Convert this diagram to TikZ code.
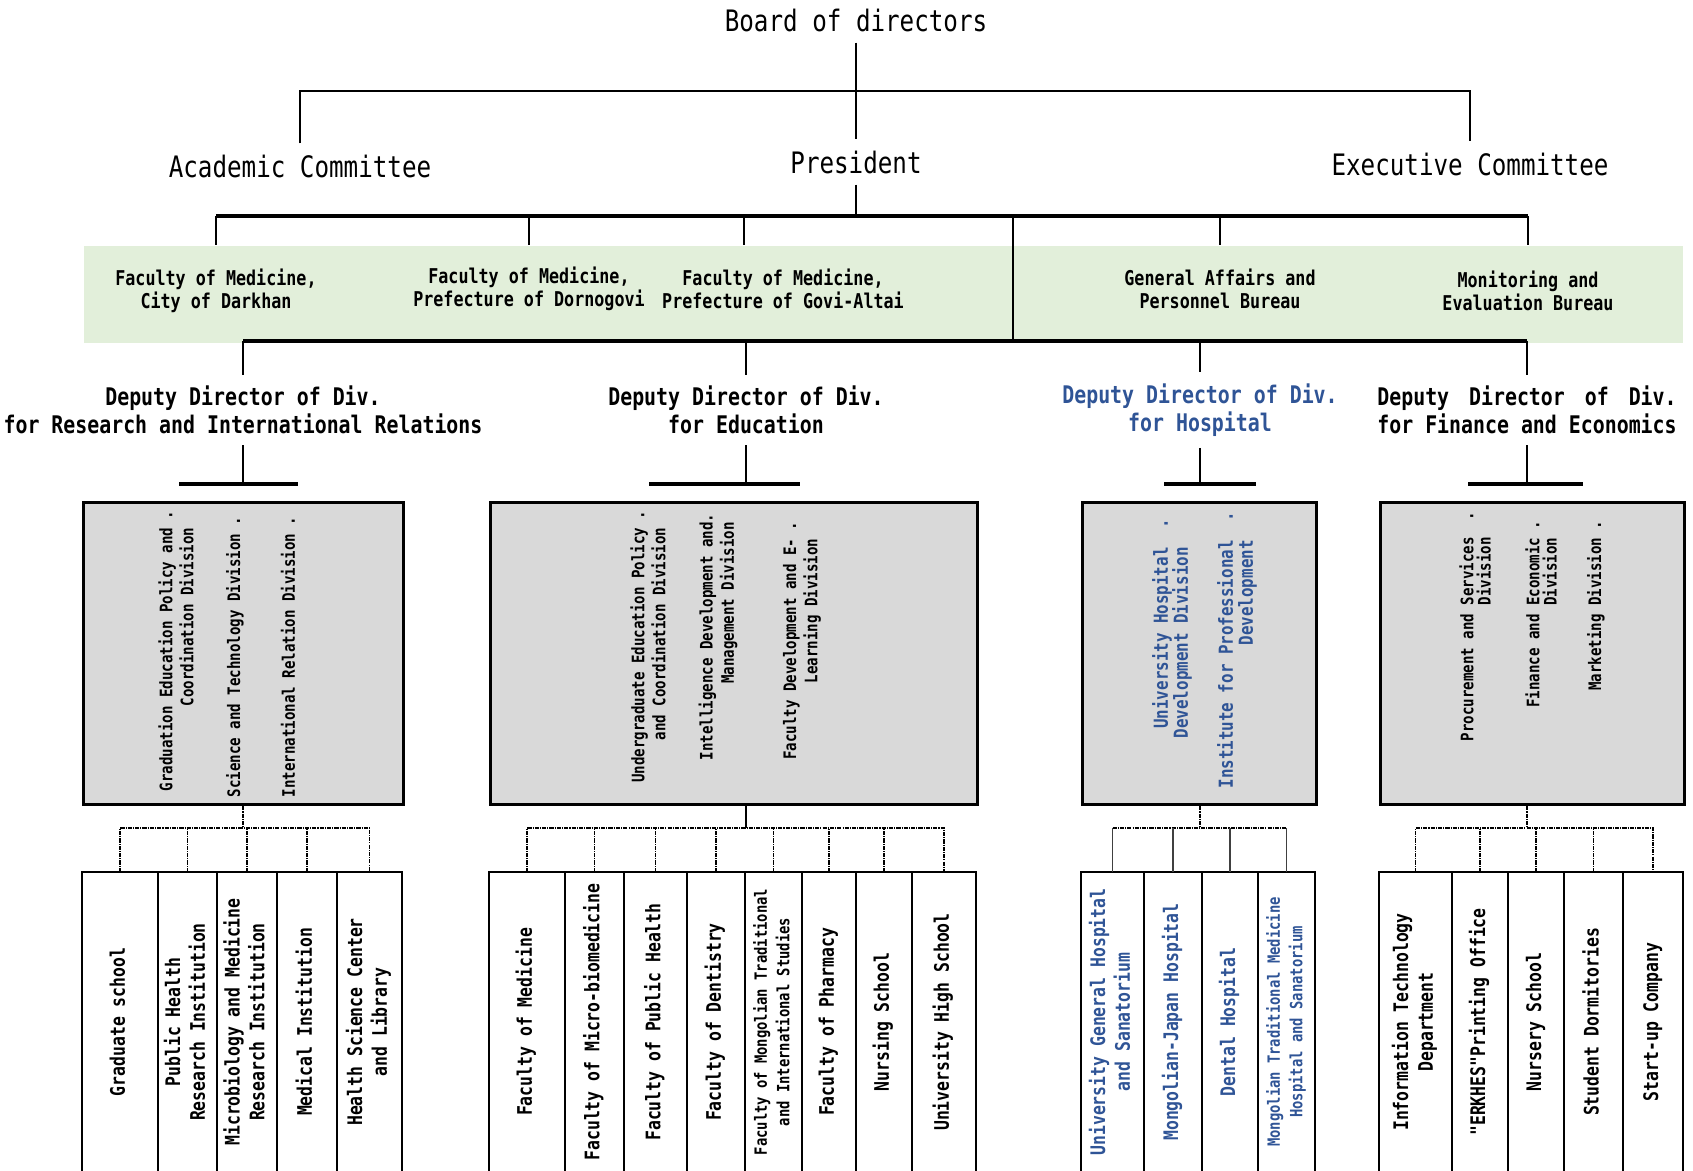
\documentclass[tikz,border=0pt]{standalone}
\usepackage{fontspec}
\usepackage{graphicx}
\usepackage{calc}
\setmainfont{DejaVu Sans Mono}[FakeStretch=0.82,Ligatures=TeXOff]
\usetikzlibrary{positioning}
\definecolor{bandcol}{RGB}{226,239,218}
\definecolor{boxcol}{RGB}{217,217,217}
\definecolor{hospcol}{RGB}{47,84,150}
\newcommand{\vlab}[1]{\rotatebox{90}{\begin{tabular}{@{}c@{}}#1\end{tabular}}}

\begin{document}
\begin{tikzpicture}[x=0.1mm, y=-0.1mm,
  head/.style={font=\fontsize{8.4}{10}\selectfont, inner sep=3pt},
  unit/.style={font=\bfseries\fontsize{5.8}{6.6}\selectfont, align=center, inner sep=0pt},
  deputy/.style={font=\bfseries\fontsize{6.9}{6.9}\selectfont, align=center, inner sep=3pt},
  band/.style={fill=bandcol, anchor=north west, inner sep=0pt, minimum height=9.7mm},
  divbox/.style={draw, line width=0.9pt, fill=boxcol, anchor=north west, inner sep=0pt, minimum height=30.2mm},
  divtxt/.style={rotate=90, anchor=east, align=right, inner sep=0pt, font=\bfseries\fontsize{4.9}{4.9}\selectfont},
  colbox/.style={draw, line width=0.75pt, anchor=north west, inner sep=0pt, outer sep=0pt, minimum height=30mm, font=\bfseries\fontsize{5.7}{7.1}\selectfont},
  smalltxt/.style={font=\bfseries\fontsize{4.8}{6.4}\selectfont},
  link/.style={line width=0.8pt},
  bus/.style={line width=1.1pt},
  tap/.style={line width=0.45pt, dash pattern=on 1.2pt off 0.3pt on 0.3pt off 0.3pt},
]
\useasboundingbox (0,0) rectangle (1693,1170);
\clip (0,0) rectangle (1693,1170);

% --- board and top level ---
\node[head] (board) at (856,20)  {Board of directors};
\node[head] (acad)  at (300,166) {Academic Committee};
\node[head] (pres)  at (856,162) {President};
\node[head] (exec)  at (1470,164) {Executive Committee};
\coordinate (topbus) at (856,91);
\draw[link] (board) -- (pres);
\draw[link] (acad) |- (topbus) -| (exec);

% --- faculties and bureaus ---
\node[band, minimum width=159.9mm] (band) at (83,245) {};
\node[unit] (darkhan)   at (216,291)  {Faculty of Medicine,\\City of Darkhan};
\node[unit] (dornogovi) at (529,289)  {Faculty of Medicine,\\Prefecture of Dornogovi};
\node[unit] (altai)     at (783,289)  {Faculty of Medicine,\\Prefecture of Govi-Altai};
\node[unit] (gab)       at (1220,289) {General Affairs and\\Personnel Bureau};
\node[unit] (meb)       at (1528,291) {Monitoring and\\Evaluation Bureau};

\coordinate (midbus)   at (856,216);
\coordinate (altaitap) at (744,216);
\coordinate (split)    at (1013,216);
\coordinate (lowbus)   at (1013,341);
\draw[link] (pres) -- (midbus);
\draw[bus] (darkhan |- midbus) -- (meb |- midbus);
\draw[link] (darkhan |- midbus) -- (darkhan |- band.north);
\draw[link] (dornogovi |- midbus) -- (dornogovi |- band.north);
\draw[link] (altaitap) -- (altaitap |- band.north);
\draw[link] (gab |- midbus) -- (gab |- band.north);
\draw[link] (meb |- midbus) -- (meb |- band.north);
\draw[link] (split) -- (lowbus);

% --- deputy directors ---
\node[deputy] (dres)  at (243,410)  {Deputy Director of Div.\\for Research and International Relations};
\node[deputy] (dedu)  at (746,410)  {Deputy Director of Div.\\for Education};
\node[deputy, text=hospcol] (dhosp) at (1200,410) {Deputy Director of Div.\\for Hospital};
\node[deputy] (dfin)  at (1527,410) {\makebox[\widthof{for Finance and Economics}][s]{Deputy Director of Div.}\\for Finance and Economics};
\draw[bus] (dres |- lowbus) -- (dfin |- lowbus);
\draw[link] (dres |- lowbus) -- (dres);
\draw[link] (dedu |- lowbus) -- (dedu);
\draw[link] (dhosp |- lowbus) -- (dhosp);
\draw[link] (dfin |- lowbus) -- (dfin);

\coordinate (resbar)  at (243,484);
\coordinate (edubar)  at (746,484);
\coordinate (hospbar) at (1200,484);
\coordinate (finbar)  at (1527,484);
\draw[link] (dres) -- (resbar);
\draw[link] (dedu) -- (edubar);
\draw[link] (dhosp) -- (hospbar);
\draw[link] (dfin) -- (finbar);
\draw[bus] ([xshift=-6.4mm]resbar) -- ([xshift=5.5mm]resbar);
\draw[bus] ([xshift=-9.7mm]edubar) -- ([xshift=5.4mm]edubar);
\draw[bus] ([xshift=-3.6mm]hospbar) -- ([xshift=5.6mm]hospbar);
\draw[bus] ([xshift=-5.9mm]finbar) -- ([xshift=5.6mm]finbar);

% --- divisions ---
\node[divbox, minimum width=32mm]   (resbox)  at (82,501)   {};
\node[divbox, minimum width=48.7mm] (edubox)  at (489,501)  {};
\node[divbox, minimum width=23.4mm] (hospbox) at (1081,501) {};
\node[divbox, minimum width=30.4mm] (finbox)  at (1379,501) {};

\node[divtxt] (gradpol) at (176,510) {Graduation Education Policy and~.\\Coordination Division\phantom{~.}};
\node[divtxt] (scitech) at (235,516) {Science and Technology Division~.};
\node[divtxt] (intrel)  at (288,516) {International Relation Division~.};

\node[divtxt] (ugpol)  at (648,510) {Undergraduate Education Policy~.\\and Coordination Division\phantom{~.}};
\node[divtxt] (intdev) at (718,513) {Intelligence Development and.\\Management Division\phantom{.}};
\node[divtxt] (facdev) at (802,521) {Faculty Development and E-~.\\Learning Division\phantom{~.}};

\node[divtxt, text=hospcol, font=\bfseries\fontsize{5.5}{5.7}\selectfont] (uhdd) at (1172,518) {University Hospital~~.\\Development Division\phantom{~~.}};
\node[divtxt, text=hospcol, font=\bfseries\fontsize{5.5}{5.7}\selectfont] (ipd)  at (1237,511) {Institute for Professional~~.\\Development\phantom{~~.}};

\node[divtxt] (procure) at (1475,511) {Procurement and Services~~.\\Division\phantom{~~.}};
\node[divtxt] (finecon) at (1541,520) {Finance and Economic~.\\Division\phantom{~.}};
\node[divtxt] (market)  at (1596,520) {Marketing Division~.};

% --- units under research ---
\coordinate (fanrow) at (0,828);
\node[colbox, minimum width=7.6mm] (gradsch) at (82,872) {\vlab{Graduate school}};
\node[colbox, minimum width=5.9mm, right=0pt of gradsch] (phri)    {\vlab{Public Health\\Research Institution}};
\node[colbox, minimum width=6mm,   right=0pt of phri]    (mmri)    {\vlab{Microbiology and Medicine\\Research Institution}};
\node[colbox, minimum width=6mm,   right=0pt of mmri]    (medinst) {\vlab{Medical Institution}};
\node[colbox, minimum width=6.5mm, right=0pt of medinst] (hsclib)  {\vlab{Health Science Center\\and Library}};
\draw[tap] (dres |- resbox.south) -- (dres |- fanrow);
\draw[tap] (gradsch.north) -- (gradsch.north |- fanrow) -- (hsclib.north |- fanrow) -- (hsclib.north)
  (phri.north) -- (phri.north |- fanrow)
  (mmri.north) -- (mmri.north |- fanrow)
  (medinst.north) -- (medinst.north |- fanrow);

% --- faculties and schools ---
\node[colbox, minimum width=7.6mm] (fmed) at (489,872) {\vlab{Faculty of Medicine}};
\node[colbox, minimum width=5.9mm, right=0pt of fmed]  (fmbm)   {\vlab{Faculty of Micro-biomedicine}};
\node[colbox, minimum width=6.3mm, right=0pt of fmbm]  (fpubh)  {\vlab{Faculty of Public Health}};
\node[colbox, minimum width=5.8mm, right=0pt of fpubh] (fdent)  {\vlab{Faculty of Dentistry}};
\node[colbox, smalltxt, minimum width=5.7mm, right=0pt of fdent] (fmtis) {\vlab{Faculty of Mongolian Traditional\\and International Studies}};
\node[colbox, minimum width=5.4mm, right=0pt of fmtis] (fphar)  {\vlab{Faculty of Pharmacy}};
\node[colbox, minimum width=5.6mm, right=0pt of fphar] (nursch) {\vlab{Nursing School}};
\node[colbox, minimum width=6.4mm, right=0pt of nursch] (uhs)   {\vlab{University High School}};
\draw[line width=0.45pt] (dedu |- edubox.south) -- (dedu |- fanrow);
\draw[tap] (fmed.north) -- (fmed.north |- fanrow) -- (uhs.north |- fanrow) -- (uhs.north)
  (fmbm.north) -- (fmbm.north |- fanrow)
  (fpubh.north) -- (fpubh.north |- fanrow)
  (fdent.north) -- (fdent.north |- fanrow)
  (fmtis.north) -- (fmtis.north |- fanrow)
  (fphar.north) -- (fphar.north |- fanrow)
  (nursch.north) -- (nursch.north |- fanrow);

% --- hospitals ---
\node[colbox, text=hospcol, minimum width=6.3mm] (ughs) at (1081,872) {\vlab{University General Hospital\\and Sanatorium}};
\node[colbox, text=hospcol, minimum width=5.8mm, right=0pt of ughs] (mjh)  {\vlab{Mongolian-Japan Hospital}};
\node[colbox, text=hospcol, minimum width=5.6mm, right=0pt of mjh]  (denh) {\vlab{Dental Hospital}};
\node[colbox, smalltxt, text=hospcol, minimum width=5.7mm, right=0pt of denh] (mtmh) {\vlab{Mongolian Traditional Medicine\\Hospital and Sanatorium}};
\draw[tap] (dhosp |- hospbox.south) -- (dhosp |- fanrow);
\draw[tap] (ughs.north |- fanrow) -- (mtmh.north |- fanrow);
\draw[line width=0.45pt, black!75] (ughs.north) -- (ughs.north |- fanrow)
  (mjh.north) -- (mjh.north |- fanrow)
  (denh.north) -- (denh.north |- fanrow)
  (mtmh.north) -- (mtmh.north |- fanrow);

% --- services ---
\node[colbox, minimum width=7.3mm] (itdep) at (1379,872) {\vlab{Information Technology\\Department}};
\node[colbox, minimum width=5.6mm, right=0pt of itdep]  (erkhes)  {\vlab{"ERKHES"Printing Office}};
\node[colbox, minimum width=5.6mm, right=0pt of erkhes] (nursery) {\vlab{Nursery School}};
\node[colbox, minimum width=5.9mm, right=0pt of nursery] (dorms)  {\vlab{Student Dormitories}};
\node[colbox, minimum width=6mm,   right=0pt of dorms]  (startup) {\vlab{Start-up Company}};
\draw[tap] (dfin |- finbox.south) -- (dfin |- fanrow);
\draw[tap] (itdep.north) -- (itdep.north |- fanrow) -- (startup.north |- fanrow) -- (startup.north)
  (erkhes.north) -- (erkhes.north |- fanrow)
  (nursery.north) -- (nursery.north |- fanrow)
  (dorms.north) -- (dorms.north |- fanrow);
\end{tikzpicture}
\end{document}
